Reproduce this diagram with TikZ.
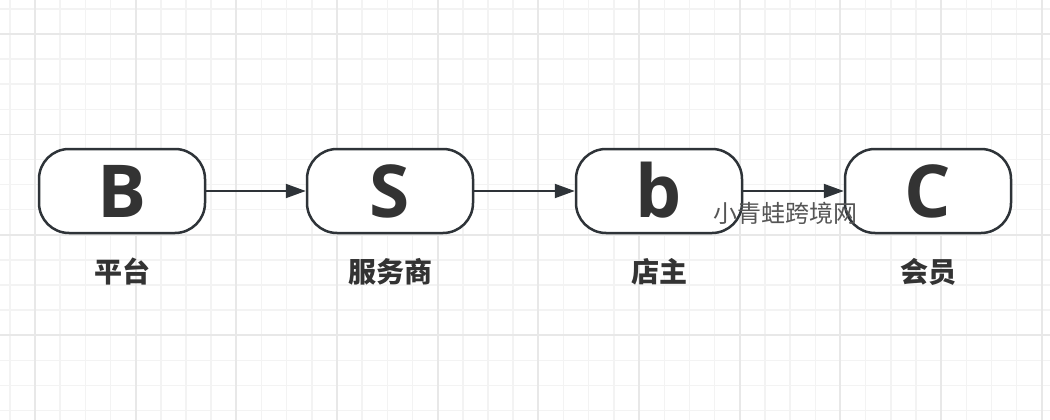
\documentclass[tikz,border=0pt]{standalone}
\usepackage{fontspec}
\setmainfont{Open Sans}
\newfontfamily\cjk{Noto Sans CJK SC}
\usetikzlibrary{arrows.meta}
\definecolor{ink}{HTML}{2E3338}
\definecolor{letter}{HTML}{333333}
\definecolor{gridminor}{HTML}{F3F3F3}
\definecolor{gridmajor}{HTML}{E8E8E8}
\definecolor{mark}{HTML}{555555}

\begin{document}
\begin{tikzpicture}[x=1pt, y=-1pt,
    role/.style={draw=ink, line width=2.5pt, fill=white, rounded corners=30pt,
      minimum width=166pt, minimum height=84pt, inner sep=0pt,
      text height=52pt, text depth=0pt, text=letter,
      font=\fontsize{73}{73}\selectfont\bfseries},
    tag/.style={text=letter, font=\cjk\fontsize{28}{28}\selectfont\bfseries},
    flow/.style={draw=ink, line width=2pt, -{Triangle[length=20pt,width=14pt]}}]
      \useasboundingbox (0,0) rectangle (1050,420);
      \fill[white] (0,0) rectangle (1050,420);
      % background grid
      \foreach \k in {-1,...,40}
        \draw[gridminor, line width=1.5pt] ({35+25.17*\k},0) -- ({35+25.17*\k},420);
      \foreach \k in {-1,...,15}
        \draw[gridminor, line width=1.5pt] (0,{34+25.1*\k}) -- (1050,{34+25.1*\k});
      \foreach \k in {0,...,10}
        \draw[gridmajor, line width=1.8pt] ({35+100.67*\k},0) -- ({35+100.67*\k},420);
      \foreach \k in {0,...,3}
        \draw[gridmajor, line width=1.8pt] (0,{34+100.4*\k}) -- (1050,{34+100.4*\k});
      % roles
      \node[role] (platform) at (122,191) {B};
      \node[role] (provider) at (390,191) {S};
      \node[role] (shop)     at (659,191) {b};
      \node[role] (member)   at (928,191) {C};
      \node[tag] (platformtag) at (122,272) {平台};
      \node[tag] (providertag) at (390,272) {服务商};
      \node[tag] (shoptag)     at (659,272) {店主};
      \node[tag] (membertag)   at (928,272) {会员};
      \draw[flow] (platform) -- (provider);
      \draw[flow] (provider) -- (shop);
      \draw[flow] (shop) -- (member);
      \node[text=mark, font=\cjk\fontsize{24}{24}\selectfont] (watermark) at (785,213) {小青蛙跨境网};
    \end{tikzpicture}
\end{document}
